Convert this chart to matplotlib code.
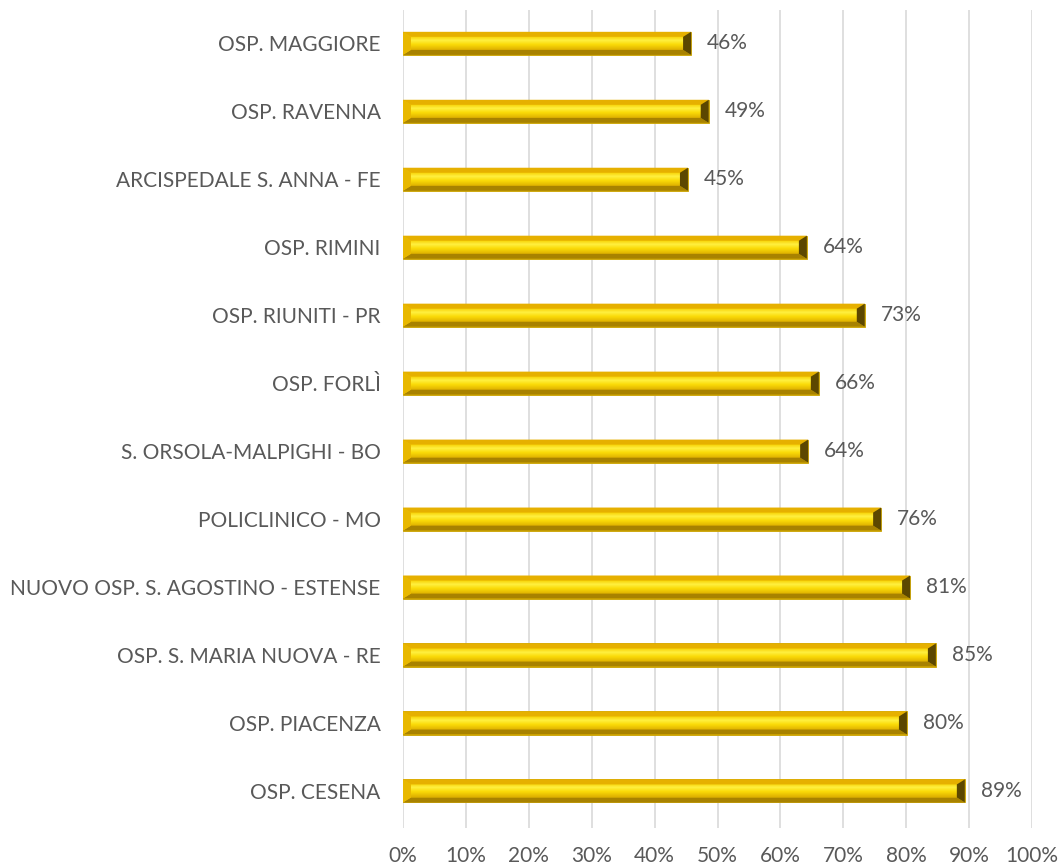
import numpy as np
import matplotlib.pyplot as plt
from matplotlib.colors import LinearSegmentedColormap
from matplotlib.patches import Polygon
from matplotlib.ticker import PercentFormatter

# categories listed bottom to top
hospitals = [
    "OSP. CESENA",
    "OSP. PIACENZA",
    "OSP. S. MARIA NUOVA - RE",
    "NUOVO OSP. S. AGOSTINO - ESTENSE",
    "POLICLINICO - MO",
    "S. ORSOLA-MALPIGHI - BO",
    "OSP. FORLÌ",
    "OSP. RIUNITI - PR",
    "OSP. RIMINI",
    "ARCISPEDALE S. ANNA - FE",
    "OSP. RAVENNA",
    "OSP. MAGGIORE",
]
shares = [0.893, 0.801, 0.847, 0.806, 0.760, 0.644, 0.661, 0.734, 0.642, 0.453, 0.486, 0.458]
x_ticks = [i / 10 for i in range(11)]

TEXT = "#595959"
GRID = "#d9d9d9"
BAR_H = 0.34
FS = 15

plt.rcParams["font.family"] = ["Lato", "DejaVu Sans"]

fig = plt.figure(figsize=(10.63, 8.67), dpi=100)
ax = fig.add_axes([0.379, 0.045, 0.592, 0.943])

ypos = np.arange(len(hospitals))
ax.set_xlim(0, 1)
ax.set_ylim(-0.545, len(hospitals) - 0.515)

# bevel sizes: a few pixels converted to data units
ax_w_px = fig.get_figwidth() * fig.dpi * 0.592
ax_h_px = fig.get_figheight() * fig.dpi * 0.943
dx = 8 / ax_w_px
dy = 5 / ax_h_px * 12.03

grad = np.linspace(0, 1, 64).reshape(-1, 1)
cmap = LinearSegmentedColormap.from_list(
    "gold", [(0, "#f7cf00"), (0.3, "#fff040"), (0.6, "#fbdb08"), (1, "#deb000")]
)

for y, v in zip(ypos, shares):
    yb, yt = y - BAR_H / 2, y + BAR_H / 2
    ax.barh(y, v, height=BAR_H, color="#f2c500", edgecolor="#c8a000",
            linewidth=0.6, zorder=3)
    ax.imshow(grad, aspect="auto", cmap=cmap, origin="upper",
              extent=(dx, v - dx, yb + dy, yt - dy), zorder=4)
    top = Polygon([(0, yt), (v, yt), (v - dx, yt - dy), (dx, yt - dy)],
                  closed=True, facecolor="#e6b000", edgecolor="none", zorder=4)
    bot = Polygon([(0, yb), (v, yb), (v - dx, yb + dy), (dx, yb + dy)],
                  closed=True, facecolor="#a88200", edgecolor="none", zorder=4)
    left = Polygon([(0, yb), (dx, yb + dy), (dx, yt - dy), (0, yt)],
                   closed=True, facecolor="#e8b800", edgecolor="none", zorder=4)
    right = Polygon([(v, yb), (v - dx, yb + dy), (v - dx, yt - dy), (v, yt)],
                    closed=True, facecolor="#5c4700", edgecolor="none", zorder=4)
    for p in (top, bot, left, right):
        ax.add_patch(p)
    ax.text(v + 0.025, y, f"{v:.0%}", va="center", ha="left",
            fontsize=FS, color=TEXT, zorder=5)

ax.set_yticks(ypos)
ax.set_yticklabels(hospitals, fontsize=FS, color=TEXT)
ax.set_xticks(x_ticks)
ax.xaxis.set_major_formatter(PercentFormatter(1.0, decimals=0))
ax.tick_params(axis="x", labelsize=FS, labelcolor=TEXT, length=0, pad=13)
ax.tick_params(axis="y", length=0, pad=16)

ax.grid(axis="x", color=GRID, linewidth=1.2, zorder=0)
ax.set_axisbelow(True)
for s in ax.spines.values():
    s.set_visible(False)

fig.savefig("out.png", dpi=100)
